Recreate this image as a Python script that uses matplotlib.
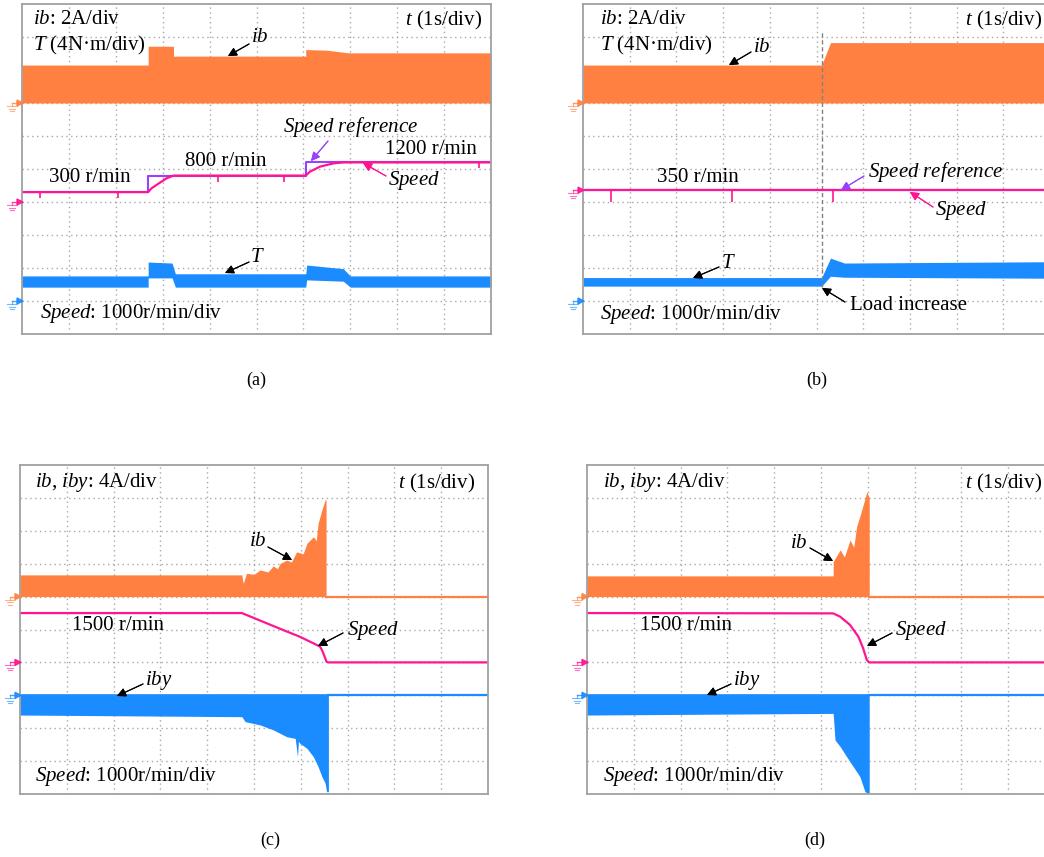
import matplotlib
matplotlib.use('Agg')
import matplotlib.pyplot as plt
from matplotlib.lines import Line2D
from matplotlib.patches import Polygon
from matplotlib.transforms import IdentityTransform

plt.rcParams['font.family'] = ['Liberation Serif', 'DejaVu Serif']
plt.rcParams['mathtext.fontset'] = 'custom'
plt.rcParams['mathtext.rm'] = 'Liberation Serif'
plt.rcParams['mathtext.it'] = 'Liberation Serif:italic'

# ---------------- data (time in s, current in A, torque in N·m, speed in r/min) -------------
# panel (a)
a_ib_t = [0, 2.69, 2.69, 3.23, 3.23, 6.05, 6.05, 6.5, 6.96, 10]
a_ib_amp = [2.3, 2.3, 3.44, 3.44, 2.84, 2.84, 3.24, 3.2, 3.04, 3.04]
a_T_t = [0, 2.69, 2.69, 3.2, 3.27, 6.05, 6.07, 6.85, 7.0, 10]
a_T_lo = [1.68, 1.68, 2.8, 2.8, 1.68, 1.68, 2.56, 2.4, 1.68, 1.68]
a_T_hi = [3.04, 3.04, 4.72, 4.6, 3.3, 3.3, 4.36, 3.92, 3.04, 3.04]
a_ref_t = [0, 2.69, 2.69, 6.05, 6.05, 10]
a_ref = [300, 300, 800, 800, 1200, 1200]
a_spd_t = [0, 2.69, 2.76, 2.94, 3.08, 3.23, 6.05, 6.14, 6.35, 6.64, 6.85, 10]
a_spd = [300, 300, 414, 585, 717, 800, 800, 920, 1070, 1170, 1200, 1200]
a_glitch_t = [0.38, 2.05, 4.18, 5.59, 9.74]
a_glitch_depth = 180

# panel (b)
b_ib_t = [0, 5.11, 5.3, 10]
b_ib_amp = [2.3, 2.3, 3.66, 3.66]
b_T_t = [0, 5.11, 5.3, 5.6, 10]
b_T_lo = [1.8, 1.8, 3.0, 2.88, 2.76]
b_T_hi = [2.84, 2.84, 5.2, 4.6, 4.76]
b_ref_t = [0, 10]
b_ref = [350, 350]
b_spd_t = [0, 10]
b_spd = [360, 360]
b_glitch_t = [0.61, 3.2, 5.35]
b_glitch_depth = 360
b_load_t = 5.11

# panel (c)
c_ib_t = [0, 4.74, 4.77, 4.84, 5.0, 5.13, 5.3, 5.41, 5.5, 5.56, 5.70, 5.8, 5.91,
          6.05, 6.13, 6.27, 6.33, 6.37, 6.45, 6.52, 6.54, 6.54, 10]
c_ib_amp = [2.64, 2.64, 1.6, 2.84, 2.7, 3.24, 3.0, 3.72, 3.4, 4.04, 4.44, 4.2, 5.44,
            5.2, 6.48, 7.28, 6.8, 8.92, 10.52, 11.76, 11.76, 0, 0]
c_iby_t = [0, 4.74, 4.81, 5.13, 5.41, 5.70, 5.88, 5.93, 5.95, 5.98, 6.13, 6.27,
           6.37, 6.45, 6.52, 6.55, 6.59, 6.59, 10]
c_iby_lo = [-2.4, -2.6, -3.2, -3.6, -4.2, -5.04, -5.24, -7.48, -5.6, -5.84, -6.44,
            -7.48, -8.68, -9.88, -10.68, -11.72, -11.72, 0, 0]
c_iby_hi = 0.2
c_spd_t = [0, 4.74, 5.63, 5.98, 6.27, 6.41, 6.45, 6.48, 6.55, 6.59, 10]
c_spd = [1500, 1500, 980, 780, 580, 480, 380, 280, 20, 0, 0]

# panel (d)
d_ib_t = [0, 5.26, 5.26, 5.41, 5.5, 5.62, 5.7, 5.76, 5.87, 5.98, 6.03, 6.03, 10]
d_ib_amp = [2.52, 2.52, 4.24, 5.68, 4.8, 6.88, 6.0, 8.48, 10.52, 12.76, 12.0, 0, 0]
d_iby_t = [0, 5.26, 5.30, 5.41, 5.55, 5.69, 5.83, 5.94, 6.01, 6.03, 6.03, 10]
d_iby_lo = [-2.4, -2.2, -5.44, -6.24, -7.48, -8.68, -9.88, -11.72, -11.92, -11.92, 0, 0]
d_iby_hi = 0.2
d_spd_t = [0, 5.26, 5.41, 5.62, 5.80, 5.90, 5.98, 6.03, 10]
d_spd = [1500, 1490, 1390, 1140, 780, 430, 70, 0, 0]

# ---------------- styling ----------------
ORANGE = '#FF8040'
PINK = '#FF1493'
BLUE = '#1A8CFF'
PURPLE = '#9A40FF'
GRIDC = '#a8a8a8'
W, H = 1044, 857

fig = plt.figure(figsize=(W / 100, H / 100), dpi=100)
fig.patch.set_facecolor('white')


def panel(left, top, w, h):
    ax = fig.add_axes([left / W, 1 - (top + h) / H, w / W, h / H])
    ax.set_xlim(0, 10)
    ax.set_ylim(0, 10)
    ax.set_xticks(range(1, 10))
    ax.set_yticks(range(1, 10))
    ax.tick_params(length=0, labelbottom=False, labelleft=False)
    ax.grid(True, color=GRIDC, linestyle=(0, (1, 2.5)), linewidth=1.0)
    for s in ax.spines.values():
        s.set_color('#a0a0a0')
        s.set_linewidth(1.3)
    ax.set_axisbelow(True)
    return ax


def ground(ax, level, color):
    px, py = ax.transData.transform((0, level))
    ident = IdentityTransform()
    fig.add_artist(Line2D([px - 10, px - 4], [py, py], color=color, lw=1.0,
                          transform=ident, alpha=0.8))
    fig.add_artist(Polygon([[px - 5, py + 3], [px + 1, py], [px - 5, py - 3]],
                           closed=True, color=color, transform=ident, alpha=0.9))
    fig.add_artist(Line2D([px - 10, px - 10], [py, py - 3], color=color, lw=0.8,
                          transform=ident, alpha=0.6))
    for dy, hw in [(3, 5), (5.5, 3.3), (8, 1.7)]:
        fig.add_artist(Line2D([px - 10 - hw, px - 10 + hw], [py - dy, py - dy],
                              color=color, lw=0.8, transform=ident, alpha=0.6))


def fig_text(x, y, s, ha='left', size=15, **kw):
    fig.text(x / W, 1 - y / H, s, ha=ha, va='center', fontsize=size, **kw)


def arrow(x0, y0, x1, y1, color='black'):
    fig.add_artist(plt.annotate('', xy=(x1, H - y1), xytext=(x0, H - y0),
                                xycoords='figure pixels', textcoords='figure pixels',
                                arrowprops=dict(arrowstyle='-|>', color=color, lw=0.8,
                                                mutation_scale=13, shrinkA=0, shrinkB=0)))


IB_LBL = r'$\mathit{ib}$'
IBY_LBL = r'$\mathit{iby}$'
SPEED_LBL = r'$\mathit{Speed}$: 1000r/min/div'
T_LBL = r'$\mathit{T}$ (4N' + '\u00b7' + 'm/div)'

# ---------------- panel (a) ----------------
axa = panel(22, 4, 469, 330)
g_ib, g_sp, g_T = 7.0, 4.0, 1.0
axa.fill_between(a_ib_t, g_ib, [g_ib + v / 2 for v in a_ib_amp], color=ORANGE, lw=0)
axa.fill_between(a_T_t, [g_T + v / 4 for v in a_T_lo], [g_T + v / 4 for v in a_T_hi],
                 color=BLUE, lw=0)
axa.plot(a_ref_t, [g_sp + v / 1000 for v in a_ref], color=PURPLE, lw=1.5)
axa.plot(a_spd_t, [g_sp + v / 1000 for v in a_spd], color=PINK, lw=1.6)
for t in a_glitch_t:
    lvl = g_sp + [v for tt, v in zip(a_ref_t, a_ref) if tt <= t][-1] / 1000
    axa.vlines(t, lvl - a_glitch_depth / 1000, lvl, color=PINK, lw=1.2)
ground(axa, g_ib, ORANGE)
ground(axa, g_sp, PINK)
ground(axa, g_T, BLUE)

fig_text(33, 20, IB_LBL + ': 2A/div')
fig_text(33, 45, T_LBL)
fig_text(482, 20, r'$\mathit{t}$ (1s/div)', ha='right')
fig_text(251, 38, IB_LBL)
arrow(249, 44, 228, 56)
fig_text(283, 127, r'$\mathit{Speed\ reference}$')
arrow(328, 141, 311, 161, PURPLE)
fig_text(385, 150, '1200 r/min')
fig_text(185, 162, '800 r/min')
fig_text(49, 177, '300 r/min')
fig_text(388, 181, r'$\mathit{Speed}$')
arrow(386, 176, 363, 163, PINK)
fig_text(250, 257, r'$\mathit{T}$')
arrow(249, 262, 225, 273)
fig_text(40, 313, SPEED_LBL)

# ---------------- panel (b) ----------------
axb = panel(583, 4, 467, 330)
axb.fill_between(b_ib_t, g_ib, [g_ib + v / 2 for v in b_ib_amp], color=ORANGE, lw=0)
axb.fill_between(b_T_t, [g_T + v / 4 for v in b_T_lo], [g_T + v / 4 for v in b_T_hi],
                 color=BLUE, lw=0)
axb.vlines(b_load_t, 1.42, 9.15, color='#808080', lw=1.0, linestyle=(0, (3, 2)))
axb.plot(b_ref_t, [g_sp + v / 1000 for v in b_ref], color=PURPLE, lw=1.5)
axb.plot(b_spd_t, [g_sp + v / 1000 for v in b_spd], color=PINK, lw=1.6)
for t in b_glitch_t:
    lvl = g_sp + b_spd[0] / 1000
    axb.vlines(t, lvl - b_glitch_depth / 1000, lvl, color=PINK, lw=1.2)
ground(axb, g_ib, ORANGE)
ground(axb, g_sp + b_spd[0] / 1000, PINK)
ground(axb, g_T, BLUE)

fig_text(600, 20, IB_LBL + ': 2A/div')
fig_text(600, 45, T_LBL)
fig_text(1042, 20, r'$\mathit{t}$ (1s/div)', ha='right')
fig_text(753, 47, IB_LBL)
arrow(751, 52, 729, 65)
fig_text(657, 177, '350 r/min')
fig_text(868, 172, r'$\mathit{Speed\ reference}$')
arrow(864, 176, 841, 190, PURPLE)
fig_text(935, 211, r'$\mathit{Speed}$')
arrow(933, 207, 910, 192, PINK)
fig_text(721, 263, r'$\mathit{T}$')
arrow(719, 267, 693, 278)
fig_text(850, 305, 'Load increase')
arrow(845, 302, 822, 288)
fig_text(600, 315, SPEED_LBL)

# ---------------- panel (c) ----------------
g_ib2, g_sp2, g_iby = 6.0, 4.0, 3.0
axc = panel(20, 465, 468, 329)
axc.fill_between(c_ib_t, g_ib2, [g_ib2 + v / 4 for v in c_ib_amp], color=ORANGE, lw=0)
axc.plot([c_ib_t[-3], 10], [g_ib2, g_ib2], color=ORANGE, lw=1.6)
axc.fill_between(c_iby_t, [g_iby + v / 4 for v in c_iby_lo], g_iby + c_iby_hi / 4,
                 where=[v < 0 for v in c_iby_lo], color=BLUE, lw=0)
axc.plot([c_iby_t[-3], 10], [g_iby, g_iby], color=BLUE, lw=1.6)
axc.plot(c_spd_t, [g_sp2 + v / 1000 for v in c_spd], color=PINK, lw=1.6)
ground(axc, g_ib2, ORANGE)
ground(axc, g_sp2, PINK)
ground(axc, g_iby, BLUE)

fig_text(35, 483, IB_LBL + ', ' + IBY_LBL + ': 4A/div')
fig_text(475, 483, r'$\mathit{t}$ (1s/div)', ha='right')
fig_text(249, 542, IB_LBL)
arrow(268, 547, 292, 560)
fig_text(72, 626, '1500 r/min')
fig_text(347, 630, r'$\mathit{Speed}$')
arrow(343, 633, 318, 646)
fig_text(145, 680, IBY_LBL)
arrow(143, 684, 117, 696)
fig_text(35, 777, SPEED_LBL)

# ---------------- panel (d) ----------------
axd = panel(587, 465, 468, 329)
axd.fill_between(d_ib_t, g_ib2, [g_ib2 + v / 4 for v in d_ib_amp], color=ORANGE, lw=0)
axd.plot([d_ib_t[-3], 10], [g_ib2, g_ib2], color=ORANGE, lw=1.6)
axd.fill_between(d_iby_t, [g_iby + v / 4 for v in d_iby_lo], g_iby + d_iby_hi / 4,
                 where=[v < 0 for v in d_iby_lo], color=BLUE, lw=0)
axd.plot([d_iby_t[-3], 10], [g_iby, g_iby], color=BLUE, lw=1.6)
axd.plot(d_spd_t, [g_sp2 + v / 1000 for v in d_spd], color=PINK, lw=1.6)
ground(axd, g_ib2, ORANGE)
ground(axd, g_sp2, PINK)
ground(axd, g_iby, BLUE)

fig_text(603, 483, IB_LBL + ', ' + IBY_LBL + ': 4A/div')
fig_text(1042, 483, r'$\mathit{t}$ (1s/div)', ha='right')
fig_text(790, 543, IB_LBL)
arrow(810, 548, 833, 561)
fig_text(640, 626, '1500 r/min')
fig_text(895, 630, r'$\mathit{Speed}$')
arrow(892, 633, 867, 646)
fig_text(733, 680, IBY_LBL)
arrow(731, 684, 707, 695)
fig_text(603, 777, SPEED_LBL)

# ---------------- captions ----------------
for (x, y), s in zip([(256, 380), (817, 380), (270, 840), (815, 840)],
                     ['(a)', '(b)', '(c)', '(d)']):
    fig_text(x, y, s, ha='center', size=13)

fig.savefig('out.png', dpi=100)
